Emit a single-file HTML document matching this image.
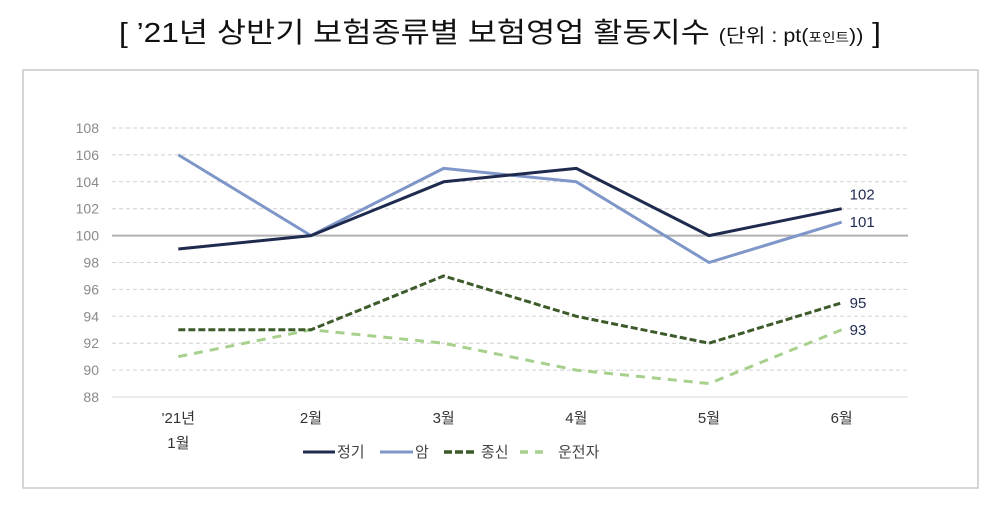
<!DOCTYPE html>
<html><head><meta charset="utf-8"><style>
body{margin:0;background:#fff;width:1000px;height:504px;overflow:hidden;font-family:"Liberation Sans","Noto Sans CJK KR",sans-serif}
</style></head><body>
<svg width="1000" height="504" xmlns="http://www.w3.org/2000/svg">
<text x="119" y="42" font-size="28" fill="#111" textLength="762" lengthAdjust="spacingAndGlyphs" font-family="Liberation Sans, Noto Sans CJK KR, sans-serif">[ ’21년 상반기 보험종류별 보험영업 활동지수 <tspan font-size="19">(단위 : pt(<tspan font-size="13">포인트</tspan>))</tspan> ]</text>
<rect x="23" y="70" width="955" height="418" fill="#fff" stroke="#c8c8c8" stroke-width="1.5"/>
<g id="grid"></g><g id="series"></g><g id="labels"></g>
<g font-size="15" fill="#444">
<g><line x1="303" y1="452" x2="335" y2="452" stroke="#1f2a4f" stroke-width="3"/><text x="337" y="457">정기</text></g>
<g><line x1="380" y1="452" x2="413" y2="452" stroke="#7f96c8" stroke-width="3"/><text x="415" y="457">암</text></g>
<g><line x1="444" y1="452" x2="476" y2="452" stroke="#3d5a2a" stroke-width="3.5" stroke-dasharray="8,3"/><text x="481" y="457">종신</text></g>
<g><line x1="520" y1="452" x2="548" y2="452" stroke="#a8d08d" stroke-width="3.5" stroke-dasharray="8,7"/><text x="558" y="457">운전자</text></g>
</g>
</svg>
<script>
const categories=["'21년|1월","2월","3월","4월","5월","6월"];
const yTicks=[88,90,92,94,96,98,100,102,104,106,108];
const jeonggi=[99,100,104,105,100,102];
const am=[106,100,105,104,98,101];
const jongsin=[93,93,97,94,92,95];
const unjeonja=[91,93,92,90,89,93];
const NS="http://www.w3.org/2000/svg";
const X0=112,X1=908,Y0=397,Y1=128;
const xs=i=>X0+(X1-X0)/categories.length*(i+0.5);
const ys=v=>Y0-(v-88)/(108-88)*(Y0-Y1);
function mk(t,a,p){const e=document.createElementNS(NS,t);for(const k in a)e.setAttribute(k,a[k]);p.appendChild(e);return e;}
const grid=document.getElementById('grid');
yTicks.forEach(v=>{
 const l=mk('line',{x1:X0,x2:X1,y1:ys(v),y2:ys(v),stroke:v===100?'#b0b0b0':(v===88?'#d9d9d9':'#d0d0d0'),'stroke-width':v===100?2:1,'stroke-dasharray':(v===100||v===88)?'':'4,3'},grid);
 
 
 const t=mk('text',{x:99,y:ys(v)+5,'text-anchor':'end','font-size':14,fill:'#8a8a8a'},grid);
 t.textContent=v;
 
 
});
categories.forEach((c,i)=>{
 const parts=c.split('|');
 parts.forEach((p,j)=>{
  const t=mk('text',{x:xs(i),y:423+j*25,'text-anchor':'middle','font-size':15,fill:'#333'},grid);
  t.textContent=p;
  
  
 });
});
const sg=document.getElementById('series');
const defs=[[unjeonja,'#a8d08d','9,7','unjeonja',0],[jongsin,'#3d5a2a','7,3','jongsin',0],[am,'#7f96c8','','am',0],[jeonggi,'#1f2a4f','','jeonggi',-14]];
defs.forEach(([d,c,da,n,off])=>{
 const pts=d.map((v,i)=>xs(i)+','+ys(v)).join(' ');
 const pl=mk('polyline',{points:pts,fill:'none',stroke:c,'stroke-width':3,'stroke-dasharray':da,'stroke-linejoin':'round'},sg);
 
 
 const last=d[d.length-1];
 const t=mk('text',{x:xs(d.length-1)+8,y:ys(last)+off+5,'font-size':15,fill:'#1f2a4f'},document.getElementById('labels'));
 t.textContent=last;
 
 
});
</script>
</body></html>
